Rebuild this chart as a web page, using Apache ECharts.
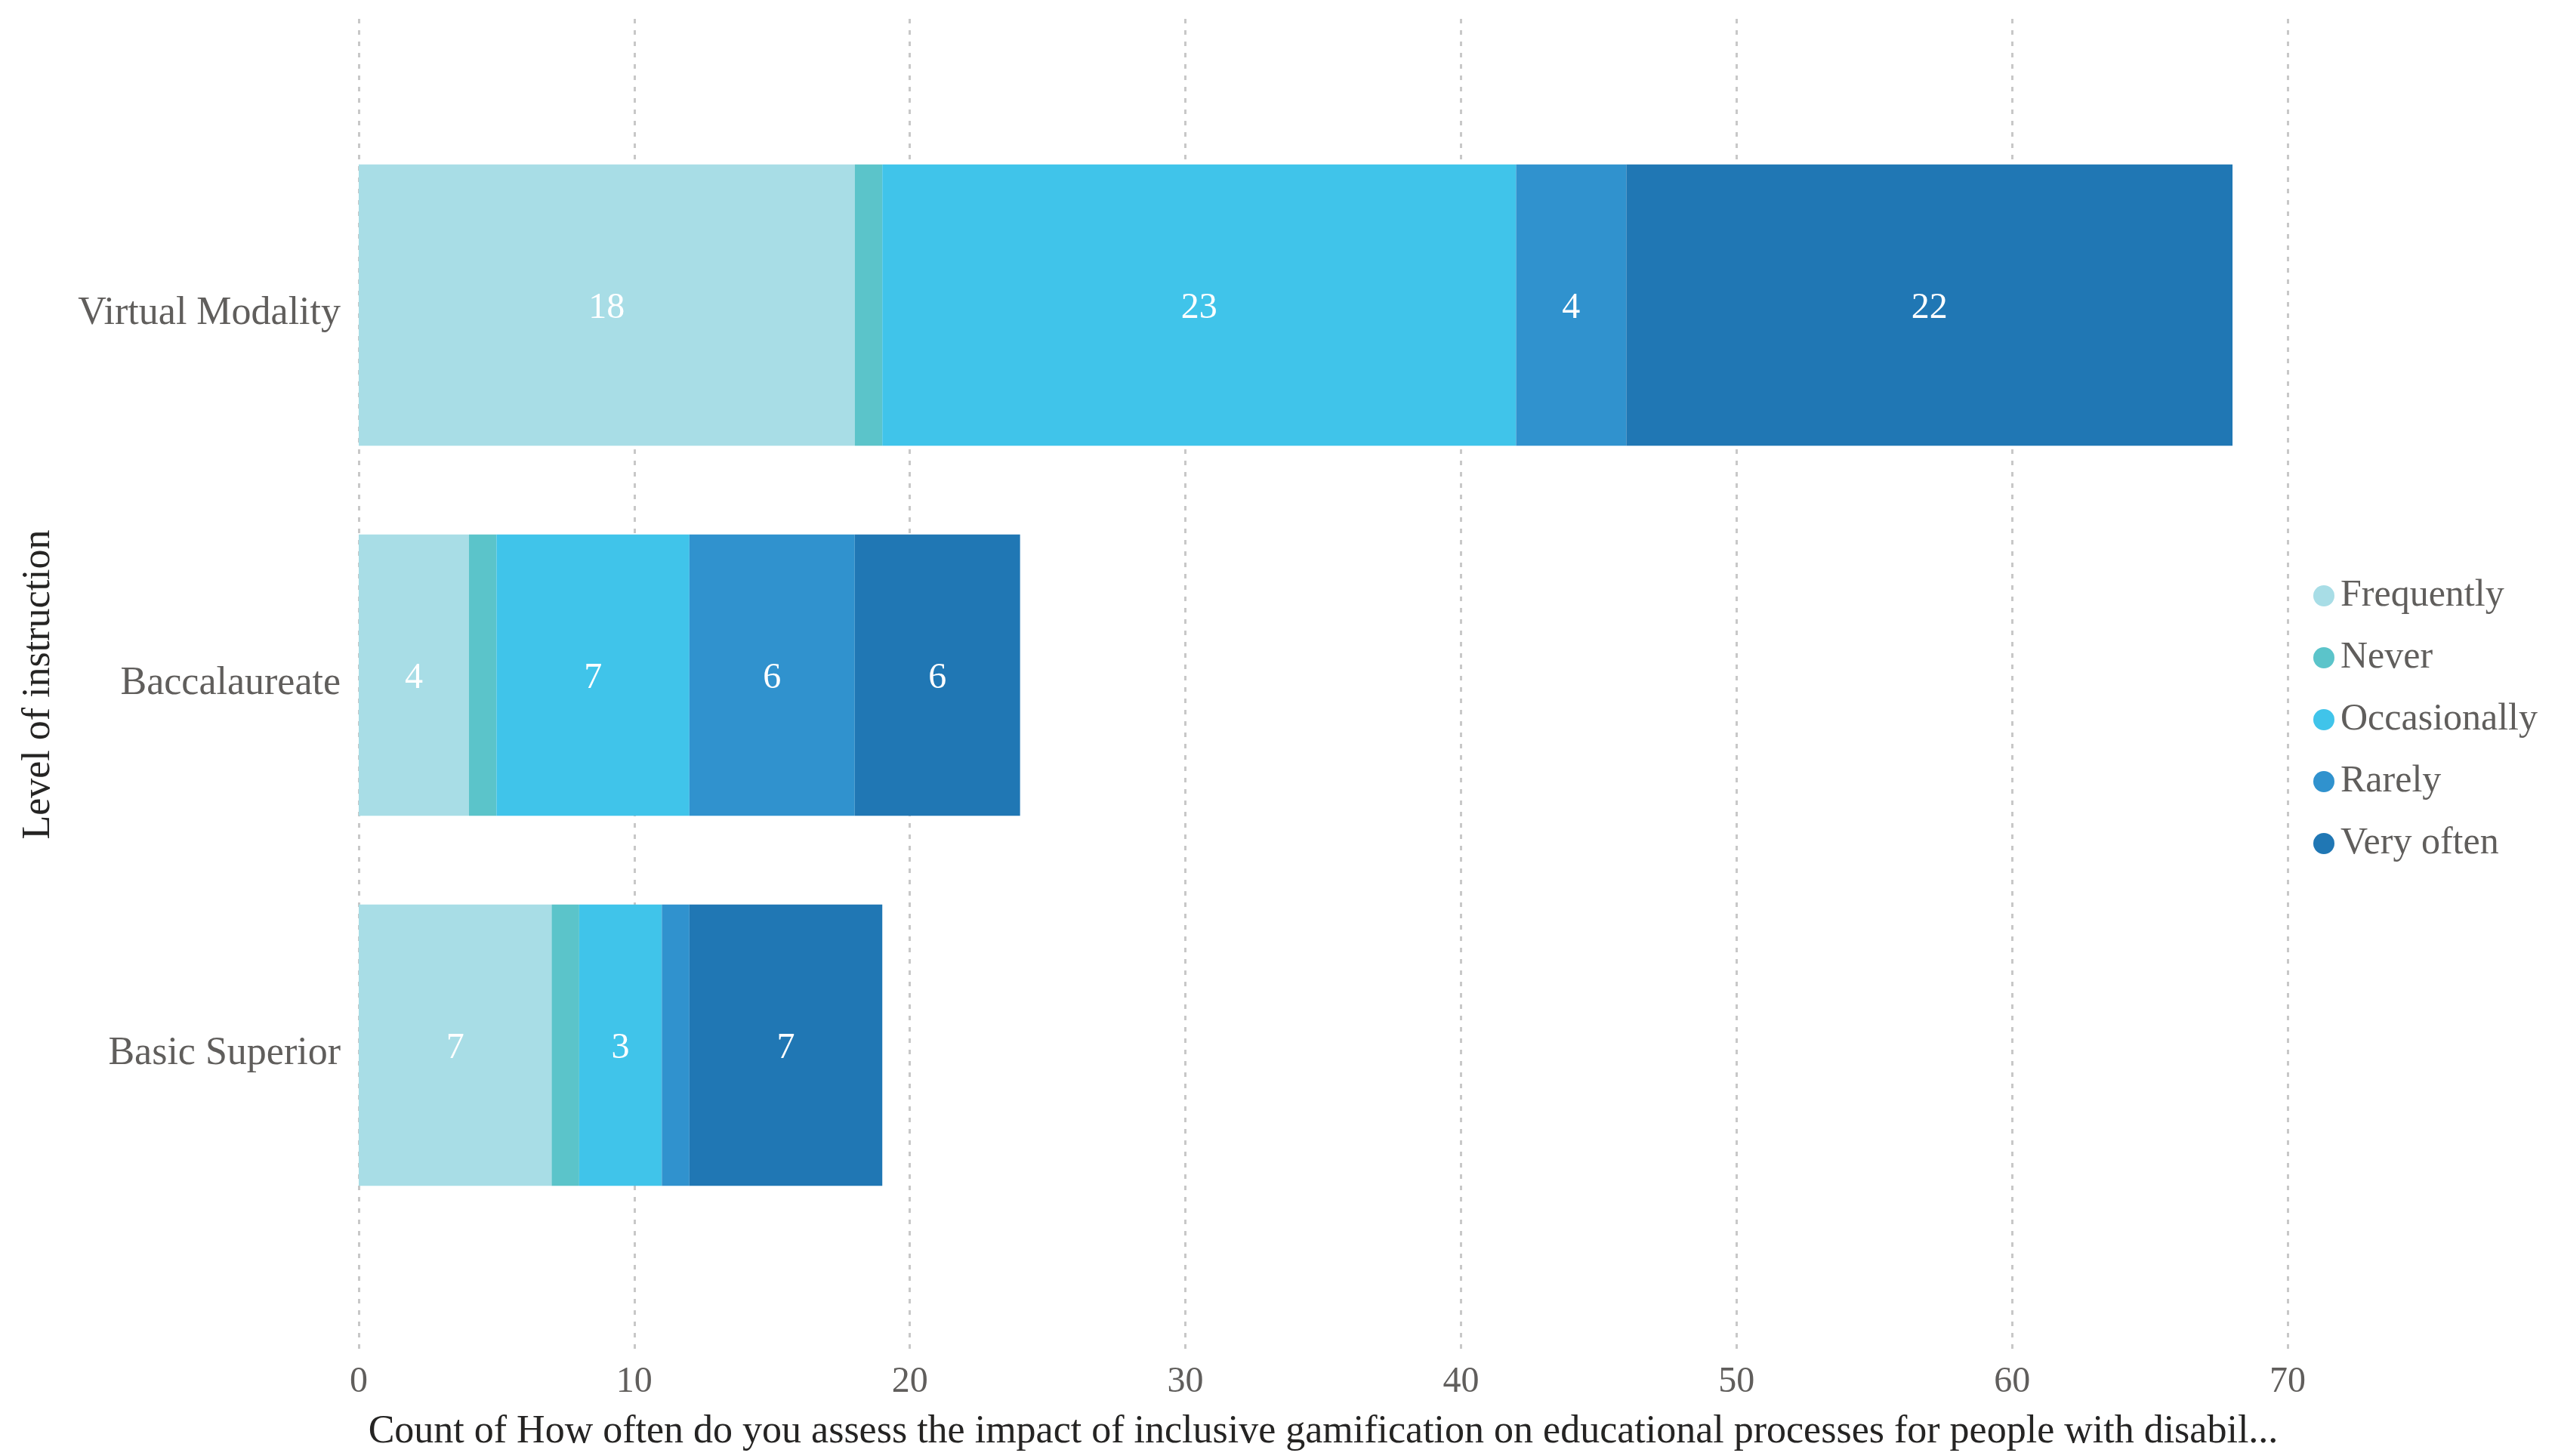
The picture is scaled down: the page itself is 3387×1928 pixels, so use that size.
<!DOCTYPE html>
<html>
<head>
<meta charset="utf-8">
<script src="https://cdn.jsdelivr.net/npm/echarts@6/dist/echarts.min.js"></script>
<style>
html,body{margin:0;padding:0;background:#fff;}
#c{width:3387px;height:1928px;}
</style>
</head>
<body>
<div id="c"></div>
<script>
const categories = ['Virtual Modality', 'Baccalaureate', 'Basic Superior'];
const seriesNames = ['Frequently', 'Never', 'Occasionally', 'Rarely', 'Very often'];
const frequently = [18, 4, 7];
const never = [1, 1, 1];
const occasionally = [23, 7, 3];
const rarely = [4, 6, 1];
const veryOften = [22, 6, 7];
const xTicks = [0, 10, 20, 30, 40, 50, 60, 70];
const colors = ['#A8DDE6', '#5BC4CA', '#40C4EA', '#3092CE', '#2077B4'];
const values = [frequently, never, occasionally, rarely, veryOften];

const FONT = 'Liberation Serif';
const chart = echarts.init(document.getElementById('c'));

const series = seriesNames.map((name, i) => ({
  name: name,
  type: 'bar',
  stack: 'total',
  xAxisIndex: 1,
  yAxisIndex: 1,
  barCategoryGap: '24%',
  itemStyle: { color: colors[i] },
  label: {
    show: true,
    position: 'inside',
    offset: [0, 4],
    color: '#ffffff',
    fontFamily: FONT,
    fontSize: 48,
    formatter: p => (p.value >= 2 ? String(p.value) : '')
  },
  data: values[i]
}));

chart.setOption({
  animation: false,
  backgroundColor: '#ffffff',
  legend: {
    orient: 'vertical',
    left: 3058,
    top: 759,
    icon: 'circle',
    itemWidth: 28,
    itemHeight: 28,
    itemGap: 32,
    textStyle: { fontFamily: FONT, fontSize: 50, color: '#605E5C', padding: [0, 0, 0, 3] },
    data: seriesNames
  },
  grid: [
    { left: 475, right: 358, top: 25, height: 1763, containLabel: false },
    { left: 475, right: 358, top: 159, height: 1470, containLabel: false }
  ],
  xAxis: [
    {
      gridIndex: 0,
      type: 'value',
      min: xTicks[0],
      max: xTicks[xTicks.length - 1],
      interval: 10,
      axisLine: { show: false },
      axisTick: { show: false },
      axisLabel: { color: '#605E5C', fontFamily: FONT, fontSize: 48, margin: 18 },
      splitLine: { show: true, lineStyle: { color: '#C8C8C8', width: 3, type: [6, 9] } },
      name: 'Count of How often do you assess the impact of inclusive gamification on educational processes for people with disabil...',
      nameLocation: 'middle',
      nameGap: 82,
      nameTextStyle: { color: '#252423', fontFamily: FONT, fontSize: 52 }
    },
    {
      gridIndex: 1,
      type: 'value',
      min: xTicks[0],
      max: xTicks[xTicks.length - 1],
      interval: 10,
      show: false,
      splitLine: { show: false }
    }
  ],
  yAxis: [
    {
      gridIndex: 0,
      type: 'value',
      show: true,
      axisLine: { show: false },
      axisTick: { show: false },
      axisLabel: { show: false },
      splitLine: { show: false },
      name: 'Level of instruction',
      nameLocation: 'middle',
      nameRotate: 90,
      nameGap: 398,
      nameTextStyle: { color: '#252423', fontFamily: FONT, fontSize: 52 }
    },
    {
      gridIndex: 1,
      type: 'category',
      inverse: true,
      data: categories,
      axisLine: { show: false },
      axisTick: { show: false },
      axisLabel: {
        margin: 24,
        formatter: v => '{c|' + v + '}',
        rich: { c: { color: '#605E5C', fontFamily: FONT, fontSize: 52, padding: [22, 0, 0, 0] } }
      },
      splitLine: { show: false }
    }
  ],
  series: series
});
</script>
</body>
</html>
